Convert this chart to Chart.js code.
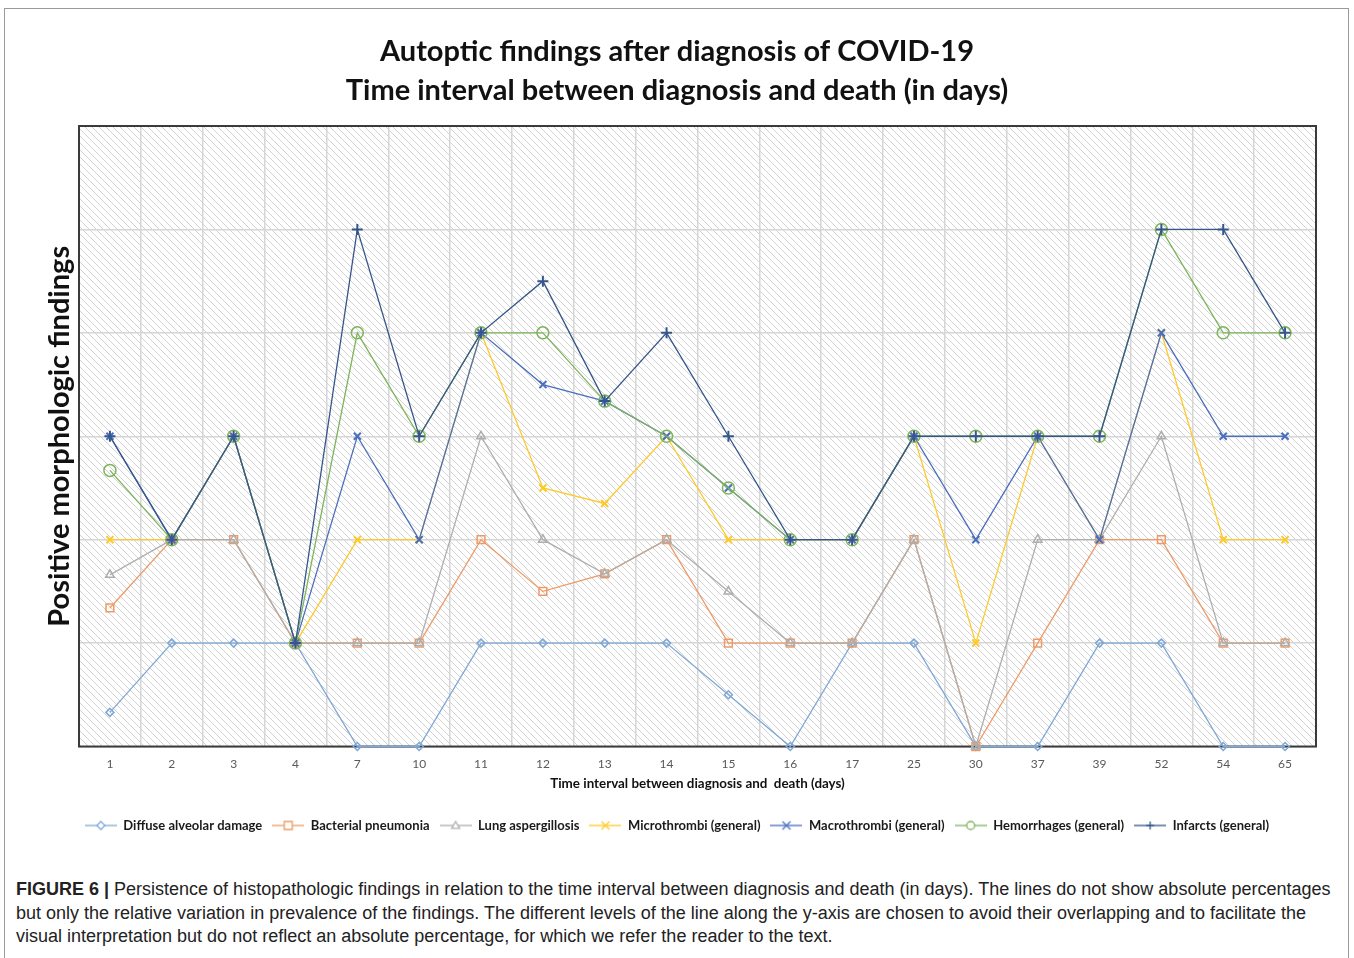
<!DOCTYPE html>
<html>
<head>
<meta charset="utf-8">
<script src="https://cdn.jsdelivr.net/npm/chart.js@4.4.1/dist/chart.umd.min.js"></script>
<style>
  html, body { margin: 0; padding: 0; background: #fff; }
  body { width: 1354px; height: 958px; position: relative; overflow: hidden; }
  #frame { position: absolute; left: 4px; top: 8px; width: 1345px; height: 960px; border: 1px solid #9a9a9a; box-sizing: border-box; }
  #wrap { position: absolute; left: 0; top: 0; width: 1354px; height: 858px; }
  #caption { position: absolute; left: 16px; top: 878px; width: 1330px; font-family: "Liberation Sans Narrow", "Liberation Sans", Arial, sans-serif; font-size: 18px; line-height: 23.5px; color: #222; white-space: nowrap; }
  #caption b { font-weight: bold; }
</style>
</head>
<body>
<div id="frame"></div>
<div id="wrap"><canvas id="c"></canvas></div>
<div id="caption"><b>FIGURE 6 |</b> Persistence of histopathologic findings in relation to the time interval between diagnosis and death (in days). The lines do not show absolute percentages<br>but only the relative variation in prevalence of the findings. The different levels of the line along the y-axis are chosen to avoid their overlapping and to facilitate the<br>visual interpretation but do not reflect an absolute percentage, for which we refer the reader to the text.</div>
<script>
const categories = ['1','2','3','4','7','10','11','12','13','14','15','16','17','25','30','37','39','52','54','65'];
const seriesNames = ['Diffuse alveolar damage','Bacterial pneumonia','Lung aspergillosis','Microthrombi (general)','Macrothrombi (general)','Hemorrhages (general)','Infarcts (general)'];
const diffuseAlveolarDamage = [0.33,1,1,1,0,0,1,1,1,1,0.5,0,1,1,0,0,1,1,0,0];
const bacterialPneumonia    = [1.34,2,2,1,1,1,2,1.5,1.67,2,1,1,1,2,0,1,2,2,1,1];
const lungAspergillosis     = [1.66,2,2,1,1,1,3,2,1.67,2,1.5,1,1,2,0,2,2,3,1,1];
const microthrombi          = [2,2,3,1,2,2,4,2.5,2.35,3,2,2,2,3,1,3,2,4,2,2];
const macrothrombi          = [3,2,3,1,3,2,4,3.5,3.34,3,2.5,2,2,3,2,3,2,4,3,3];
const hemorrhages           = [2.67,2,3,1,4,3,4,4,3.34,3,2.5,2,2,3,3,3,3,5,4,4];
const infarcts              = [3,2,3,1,5,3,4,4.5,3.34,4,3,2,2,3,3,3,3,5,5,4];
const yTicks = [0,1,2,3,4,5,6];

const seriesValues = [diffuseAlveolarDamage, bacterialPneumonia, lungAspergillosis, microthrombi, macrothrombi, hemorrhages, infarcts];
const colors = ['#7fa8d6','#ef9a66','#aeaeae','#ffc928','#4a6fc0','#7db55a','#34568c'];
const markers = ['rectRot','rect','triangle','crossRot','crossRot','circle','cross'];
const radii = [4,5.5,5,5,5,6,5.5];

const datasets = seriesNames.map((name, i) => ({
  label: name,
  data: seriesValues[i],
  borderColor: colors[i],
  backgroundColor: 'rgba(255,255,255,0)',
  borderWidth: 1.3,
  pointStyle: markers[i],
  pointRadius: radii[i],
  pointBorderWidth: (i === 3 || i === 4 || i === 6) ? 2 : 1.5,
  pointBackgroundColor: 'rgba(255,255,255,0)',
  pointBorderColor: colors[i],
  tension: 0,
  fill: false,
  clip: false,
  yAxisID: 'y',
  order: seriesNames.length - i
}));

function legendIcon(i) {
  const cv = document.createElement('canvas');
  cv.width = 32; cv.height = 14;
  const g = cv.getContext('2d');
  g.strokeStyle = colors[i];
  g.lineWidth = 1.3;
  g.beginPath(); g.moveTo(0, 7); g.lineTo(32, 7); g.stroke();
  g.fillStyle = '#fff';
  const r = 4;
  g.beginPath();
  const cx = 16, cy = 7;
  const m = markers[i];
  if (m === 'rectRot') { g.moveTo(cx, cy - r); g.lineTo(cx + r, cy); g.lineTo(cx, cy + r); g.lineTo(cx - r, cy); g.closePath(); g.fill(); g.stroke(); }
  else if (m === 'rect') { g.rect(cx - r, cy - r, 2*r, 2*r); g.fill(); g.stroke(); }
  else if (m === 'triangle') { g.moveTo(cx, cy - r); g.lineTo(cx + r, cy + r*0.7); g.lineTo(cx - r, cy + r*0.7); g.closePath(); g.fill(); g.stroke(); }
  else if (m === 'circle') { g.arc(cx, cy, r, 0, Math.PI*2); g.fill(); g.stroke(); }
  else if (m === 'crossRot') { g.moveTo(cx - r, cy - r); g.lineTo(cx + r, cy + r); g.moveTo(cx + r, cy - r); g.lineTo(cx - r, cy + r); g.stroke(); }
  else if (m === 'cross') { g.moveTo(cx - r, cy); g.lineTo(cx + r, cy); g.moveTo(cx, cy - r); g.lineTo(cx, cy + r); g.stroke(); }
  return cv;
}

const hatchPlugin = {
  id: 'hatch',
  beforeDraw(chart) {
    const {ctx, chartArea: a} = chart;
    const s = 7;
    const tile = document.createElement('canvas');
    tile.width = s; tile.height = s;
    const t = tile.getContext('2d');
    t.fillStyle = '#ffffff'; t.fillRect(0, 0, s, s);
    t.strokeStyle = '#d2d2d2'; t.lineWidth = 1;
    t.beginPath();
    t.moveTo(0, 0); t.lineTo(s, s);
    t.moveTo(-1, s - 1); t.lineTo(1, s + 1);
    t.moveTo(s - 1, -1); t.lineTo(s + 1, 1);
    t.stroke();
    ctx.save();
    ctx.fillStyle = ctx.createPattern(tile, 'repeat');
    ctx.fillRect(a.left, a.top, a.right - a.left, a.bottom - a.top);
    ctx.restore();
  },
  beforeDatasetsDraw(chart) {
    const {ctx, chartArea: a} = chart;
    ctx.save();
    ctx.strokeStyle = '#3a3a3a';
    ctx.lineWidth = 2;
    ctx.strokeRect(a.left, a.top, a.right - a.left, a.bottom - a.top);
    ctx.restore();
  }
};

new Chart(document.getElementById('c'), {
  type: 'line',
  data: { labels: categories, datasets },
  plugins: [hatchPlugin],
  options: {
    responsive: true,
    maintainAspectRatio: false,
    animation: false,
    layout: { padding: { left: 0, right: 0, top: 0, bottom: 16 } },
    plugins: {
      tooltip: { enabled: false },
      title: {
        display: true,
        text: ['Autoptic findings after diagnosis of COVID-19', 'Time interval between diagnosis and death (in days)'],
        color: '#111',
        font: { family: 'Lato', size: 29, weight: 'bold', lineHeight: 1.345 },
        padding: { top: 32, bottom: 16 }
      },
      legend: {
        display: true,
        position: 'bottom',
        labels: {
          usePointStyle: true,
          pointStyleWidth: 32,
          padding: 10,
          color: '#1a1a1a',
          font: { family: 'Lato', size: 13, weight: 'bold' },
          generateLabels(chart) {
            return chart.data.datasets.map((d, i) => ({
              text: d.label,
              fillStyle: colors[i],
              strokeStyle: colors[i],
              lineWidth: 0,
              pointStyle: legendIcon(i),
              hidden: false,
              datasetIndex: i,
              fontColor: '#1a1a1a'
            }));
          }
        }
      }
    },
    scales: {
      x: {
        offset: true,
        grid: { offset: true, color: '#d6d6d6', lineWidth: 1.5, drawTicks: false },
        border: { display: false },
        ticks: { color: '#595959', font: { family: 'Lato', size: 12 }, padding: 10, maxRotation: 0, autoSkip: false },
        title: { display: true, text: 'Time interval between diagnosis and  death (days)', color: '#111', font: { family: 'Lato', size: 13.4, weight: 'bold' }, padding: { top: -5, bottom: 17 } }
      },
      y: {
        min: 0, max: 6,
        afterBuildTicks(scale) { scale.ticks = yTicks.map(v => ({ value: v })); },
        grid: { color: '#d6d6d6', lineWidth: 1.5, drawTicks: false },
        border: { display: false },
        ticks: { display: false },
        afterFit(scale) { scale.width = 79; },
        title: { display: true, text: 'Positive morphologic findings', color: '#111', font: { family: 'Lato', size: 29, weight: 'bold' }, padding: { top: 42, bottom: 0 } }
      },
      yRight: {
        position: 'right',
        min: 0, max: 6,
        display: true,
        grid: { display: false, drawTicks: false },
        border: { display: false },
        ticks: { display: false },
        afterFit(scale) { scale.width = 38; }
      }
    }
  }
});
</script>
</body>
</html>
